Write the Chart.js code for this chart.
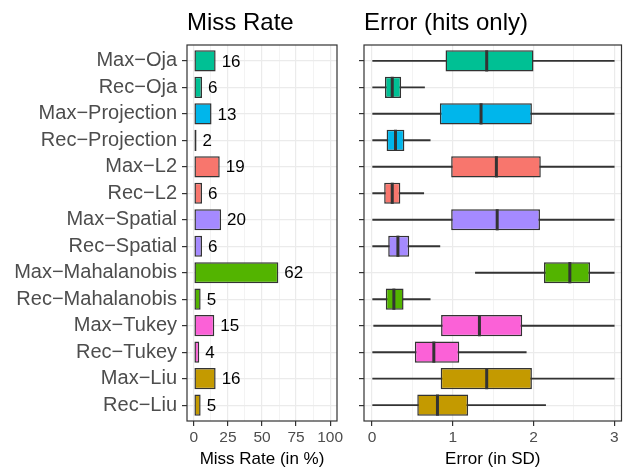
<!DOCTYPE html>
<html lang="en">
<head>
<meta charset="UTF-8" />
<title>Miss Rate and Error (hits only)</title>
<script src="https://cdn.jsdelivr.net/npm/chart.js"></script>
<style>
    body {
        margin: 0;
        background: #ffffff;
        width: 624px;
        height: 467px;
        position: relative;
        overflow: hidden;
        font-family: 'Liberation Sans', Arial, sans-serif;
    }
    .panel { position: absolute; top: 0; height: 467px; }
    #leftBox { left: 0; width: 350px; }
    #rightBox { left: 350px; width: 274px; }
</style>
</head>
<body>

<div class="panel" id="leftBox"><canvas id="missChart"></canvas></div>
<div class="panel" id="rightBox"><canvas id="errorChart"></canvas></div>

<script>
    // data
    const categories = ['Max−Oja', 'Rec−Oja', 'Max−Projection', 'Rec−Projection', 'Max−L2', 'Rec−L2',
        'Max−Spatial', 'Rec−Spatial', 'Max−Mahalanobis', 'Rec−Mahalanobis', 'Max−Tukey', 'Rec−Tukey',
        'Max−Liu', 'Rec−Liu'];
    const missRate = [16, 6, 13, 2, 19, 6, 20, 6, 62, 5, 15, 4, 16, 5];
    const whiskerLo = [0, 0, 0, 0, 0, 0, 0, 0, 1.28, 0, 0.02, 0, 0, 0];
    const q1 = [0.91, 0.16, 0.84, 0.18, 0.98, 0.15, 0.98, 0.20, 2.13, 0.17, 0.855, 0.53, 0.85, 0.56];
    const median = [1.42, 0.25, 1.35, 0.29, 1.54, 0.25, 1.55, 0.32, 2.45, 0.27, 1.33, 0.765, 1.42, 0.81];
    const q3 = [2.0, 0.36, 1.98, 0.40, 2.09, 0.35, 2.08, 0.46, 2.70, 0.39, 1.86, 1.08, 1.98, 1.19];
    const whiskerHi = [3, 0.65, 3, 0.72, 3, 0.64, 3, 0.84, 3, 0.72, 3, 1.91, 3, 2.15];
    const missTicks = [0, 12.5, 25, 37.5, 50, 62.5, 75, 87.5, 100];
    const errorTicks = [0, 0.5, 1, 1.5, 2, 2.5, 3];

    const methodColors = ['#00C094', '#00B6EB', '#F8766D', '#A58AFF', '#53B400', '#FB61D7', '#C49A00'];
    const rowColors = categories.map((c, i) => methodColors[Math.floor(i / 2)]);

    const FONT = "'Liberation Sans', Arial, sans-serif";
    const DARK = '#333333';
    const GRID = '#EBEBEB';

    // panel border + left-aligned panel title
    const panelFrame = {
        id: 'panelFrame',
        afterDraw(chart, args, opts) {
            const { ctx, chartArea: a } = chart;
            ctx.save();
            ctx.strokeStyle = DARK;
            ctx.lineWidth = 1.2;
            ctx.strokeRect(a.left, a.top, a.right - a.left, a.bottom - a.top);
            ctx.fillStyle = '#000000';
            ctx.font = '24px ' + FONT;
            ctx.textBaseline = 'alphabetic';
            ctx.textAlign = 'left';
            ctx.fillText(opts.text, a.left, 30);
            ctx.restore();
        }
    };

    // numbers next to the miss rate bars
    const barLabels = {
        id: 'barLabels',
        afterDatasetsDraw(chart) {
            const { ctx } = chart;
            ctx.save();
            ctx.fillStyle = '#000000';
            ctx.font = '17px ' + FONT;
            ctx.textBaseline = 'middle';
            chart.getDatasetMeta(0).data.forEach((bar, i) => {
                ctx.fillText(String(missRate[i]), bar.x + 6, bar.y + 1);
            });
            ctx.restore();
        }
    };

    // thick median line inside each box
    const medianLines = {
        id: 'medianLines',
        afterDatasetsDraw(chart) {
            const { ctx } = chart;
            const xs = chart.scales.x;
            ctx.save();
            ctx.strokeStyle = DARK;
            ctx.lineWidth = 3;
            chart.getDatasetMeta(1).data.forEach((box, i) => {
                const px = xs.getPixelForValue(median[i]);
                ctx.beginPath();
                ctx.moveTo(px, box.y - box.height / 2);
                ctx.lineTo(px, box.y + box.height / 2);
                ctx.stroke();
            });
            ctx.restore();
        }
    };

    function yAxis(showLabels, width) {
        return {
            type: 'linear',
            reverse: true,
            offset: false,
            min: -0.6,
            max: categories.length - 0.4,
            afterBuildTicks: s => { s.ticks = categories.map((c, i) => ({ value: i })); },
            afterFit: s => { s.width = width; },
            ticks: {
                autoSkip: false,
                padding: 5,
                color: '#4D4D4D',
                font: { family: FONT, size: 20 },
                callback: v => showLabels ? categories[v] : ''
            },
            grid: { offset: false, color: GRID, lineWidth: 1.2, tickLength: 5, tickColor: DARK, tickWidth: 1.2 },
            border: { display: false }
        };
    }

    function xAxis(min, max, tickValues, isMajor, title) {
        return {
            type: 'linear',
            min: min,
            max: max,
            afterBuildTicks: s => { s.ticks = tickValues.map(v => ({ value: v })); },
            afterFit: s => { s.height = 46; },
            ticks: {
                autoSkip: false,
                maxRotation: 0,
                padding: 2,
                color: '#4D4D4D',
                font: { family: FONT, size: 15.5 },
                callback: v => isMajor(v) ? String(v) : ''
            },
            grid: {
                color: GRID,
                lineWidth: c => c.tick && isMajor(c.tick.value) ? 1.2 : 0.6,
                tickLength: 5,
                tickWidth: 1.2,
                tickColor: c => c.tick && isMajor(c.tick.value) ? DARK : 'rgba(0,0,0,0)'
            },
            border: { display: false },
            title: {
                display: true,
                text: title,
                color: '#000000',
                font: { family: FONT, size: 17 },
                padding: { top: 0, bottom: -3 }
            }
        };
    }

    const common = {
        indexAxis: 'y',
        responsive: true,
        maintainAspectRatio: false,
        animation: false,
        events: []
    };

    new Chart(document.getElementById('missChart'), {
        type: 'bar',
        data: {
            datasets: [{
                data: missRate.map((v, i) => ({ x: v, y: i })),
                backgroundColor: rowColors,
                borderColor: DARK,
                borderWidth: 1.5,
                borderSkipped: false,
                barPercentage: 0.8,
                categoryPercentage: 1
            }]
        },
        options: {
            ...common,
            layout: { padding: { top: 45, right: 13, left: 0, bottom: 0 } },
            scales: {
                x: xAxis(-5, 105, missTicks, v => v % 25 === 0, 'Miss Rate (in %)'),
                y: yAxis(true, 187)
            },
            plugins: {
                legend: { display: false },
                tooltip: { enabled: false },
                panelFrame: { text: 'Miss Rate' }
            }
        },
        plugins: [panelFrame, barLabels]
    });

    new Chart(document.getElementById('errorChart'), {
        type: 'bar',
        data: {
            datasets: [{
                // whiskers
                data: whiskerLo.map((v, i) => ({ x: [v, whiskerHi[i]], y: i })),
                backgroundColor: DARK,
                borderWidth: 0,
                barThickness: 1.3,
                grouped: false,
                order: 2
            }, {
                // boxes (q1 to q3)
                data: q1.map((v, i) => ({ x: [v, q3[i]], y: i })),
                backgroundColor: rowColors,
                borderColor: DARK,
                borderWidth: 1.5,
                borderSkipped: false,
                barPercentage: 0.8,
                categoryPercentage: 1,
                grouped: false,
                order: 1
            }]
        },
        options: {
            ...common,
            layout: { padding: { top: 45, right: 2.5, left: 0, bottom: 0 } },
            scales: {
                x: xAxis(-0.1, 3.09, errorTicks, v => Number.isInteger(v), 'Error (in SD)'),
                y: yAxis(false, 14)
            },
            plugins: {
                legend: { display: false },
                tooltip: { enabled: false },
                panelFrame: { text: 'Error (hits only)' }
            }
        },
        plugins: [panelFrame, medianLines]
    });
</script>

</body>
</html>
